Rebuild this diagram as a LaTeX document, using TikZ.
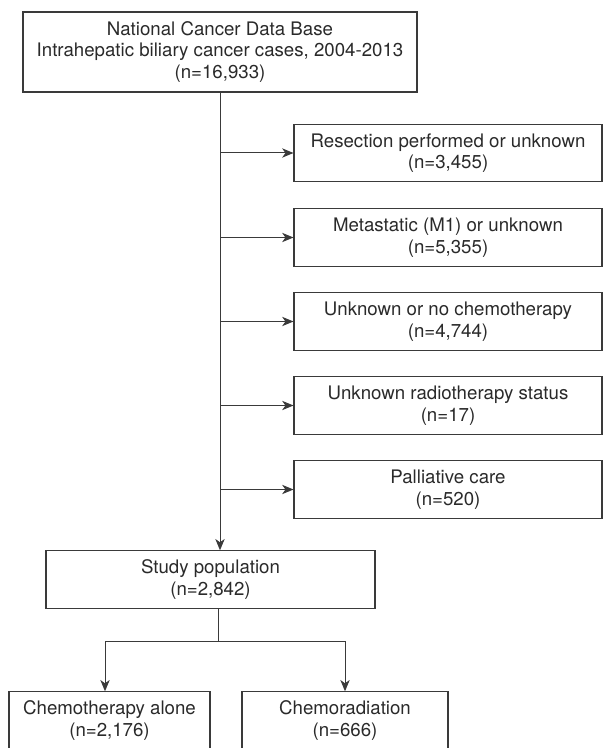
\documentclass[tikz,border=0pt]{standalone}
\usepackage{fontspec}
\setmainfont{TeX Gyre Heros}
\usetikzlibrary{arrows.meta}
\definecolor{linegray}{HTML}{3A3A3A}
\definecolor{textgray}{HTML}{2A2A2A}

\begin{document}
\begin{tikzpicture}[x=0.75pt, y=-0.75pt,
    every node/.style={draw=linegray, line width=0.8pt, align=center, inner sep=0pt,
        text=textgray, font=\fontsize{14}{16.2}\selectfont},
    sidebox/.style={minimum width=231pt, minimum height=43pt},
    flow/.style={draw=linegray, line width=0.75pt, -{Stealth[length=8.5pt, width=7pt, inset=2.5pt]}}]

    \useasboundingbox (0,0) rectangle (603,748);

    % Source cohort
    \node[minimum width=295.5pt, minimum height=60pt] (ncdb) at (220,52)
        {National Cancer Data Base\\Intrahepatic biliary cancer cases, 2004-2013\\(n=16,933)};

    % Exclusions
    \node[sidebox] (resect) at (448,153) {Resection performed or unknown\\(n=3,455)};
    \node[sidebox] (meta) at (448,237.5) {Metastatic (M1) or unknown\\(n=5,355)};
    \node[sidebox] (nochemo) at (448,321.5) {Unknown or no chemotherapy\\(n=4,744)};
    \node[sidebox] (radio) at (448,405.5) {Unknown radiotherapy status\\(n=17)};
    \node[sidebox] (palli) at (448,489.5) {Palliative care\\(n=520)};

    % Study population
    \node[minimum width=246.75pt, minimum height=43pt] (study) at (210.5,579.5)
        {Study population\\(n=2,842)};

    % Treatment groups
    \node[minimum width=150.75pt, minimum height=43pt] (chemo) at (109.5,720.5)
        {Chemotherapy alone\\(n=2,176)};
    \node[minimum width=154.5pt, minimum height=43pt] (chemorad) at (345,720.5)
        {Chemoradiation\\(n=666)};

    \coordinate (split) at (218,641);
    \coordinate (lbranch) at (105,641);

    % Connectors
    \draw[flow] (ncdb.south) -- (ncdb.south |- study.north);
    \foreach \ex in {resect, meta, nochemo, radio, palli}
        \draw[flow] (ncdb.south |- \ex.west) -- (\ex.west);
    \draw[draw=linegray, line width=0.75pt] (split |- study.south) -- (split);
    \draw[flow] (split) -- (lbranch) -- (lbranch |- chemo.north);
    \draw[flow] (split) -| (chemorad.north);
\end{tikzpicture}
\end{document}
